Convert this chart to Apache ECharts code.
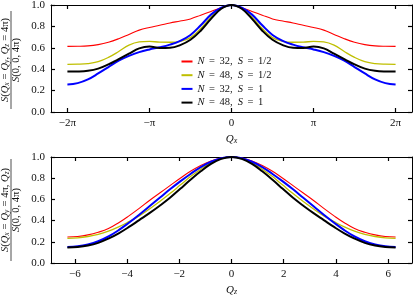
<!DOCTYPE html>
<html>
<head>
<meta charset="utf-8">
<script src="https://cdn.jsdelivr.net/npm/echarts@6/dist/echarts.min.js"></script>
<style>
html,body{margin:0;padding:0;background:#fff;}
#c{width:415px;height:297px;}
</style>
</head>
<body>
<div id="c"></div>
<script>
// ---- data ----
// top panel: Qx in units of pi
const qxTop = [-2,-1.875,-1.75,-1.625,-1.5,-1.375,-1.25,-1.125,-1,-0.875,-0.75,-0.625,-0.5,-0.375,-0.25,-0.125,0,
  0.125,0.25,0.375,0.5,0.625,0.75,0.875,1,1.125,1.25,1.375,1.5,1.625,1.75,1.875,2];
const redTop = [0.613,0.614,0.618,0.63,0.652,0.685,0.725,0.765,0.79,0.81,0.832,0.85,0.87,0.905,0.94,0.975,1.0,
  0.975,0.94,0.905,0.87,0.85,0.832,0.81,0.79,0.765,0.725,0.685,0.652,0.63,0.618,0.614,0.613];
const yellowTop = [0.446,0.447,0.452,0.47,0.51,0.565,0.625,0.655,0.66,0.653,0.652,0.66,0.695,0.78,0.885,0.97,1.0,
  0.97,0.885,0.78,0.695,0.66,0.652,0.653,0.66,0.655,0.625,0.565,0.51,0.47,0.452,0.447,0.446];
const blueTop = [0.256,0.27,0.305,0.36,0.42,0.48,0.525,0.56,0.585,0.605,0.63,0.665,0.72,0.81,0.91,0.975,1.0,
  0.975,0.91,0.81,0.72,0.665,0.63,0.605,0.585,0.56,0.525,0.48,0.42,0.36,0.305,0.27,0.256];
const blackTop = [0.378,0.379,0.385,0.405,0.445,0.495,0.545,0.595,0.612,0.598,0.60,0.625,0.675,0.76,0.87,0.965,1.0,
  0.965,0.87,0.76,0.675,0.625,0.60,0.598,0.612,0.595,0.545,0.495,0.445,0.405,0.385,0.379,0.378];

// bottom panel: Qz
const qzBot = [-6.283,-5.890,-5.498,-5.105,-4.712,-4.320,-3.927,-3.534,-3.142,-2.749,-2.356,-1.963,-1.571,-1.178,-0.785,-0.393,0,
  0.393,0.785,1.178,1.571,1.963,2.356,2.749,3.142,3.534,3.927,4.320,4.712,5.105,5.498,5.890,6.283];
const redBot = [0.245,0.25,0.265,0.29,0.325,0.38,0.445,0.515,0.59,0.66,0.73,0.80,0.865,0.92,0.963,0.99,1.0,
  0.99,0.963,0.92,0.865,0.80,0.73,0.66,0.59,0.515,0.445,0.38,0.325,0.29,0.265,0.25,0.245];
const yellowBot = [0.232,0.237,0.25,0.27,0.30,0.34,0.39,0.445,0.51,0.58,0.655,0.735,0.815,0.885,0.945,0.985,1.0,
  0.985,0.945,0.885,0.815,0.735,0.655,0.58,0.51,0.445,0.39,0.34,0.30,0.27,0.25,0.237,0.232];
const blueBot = [0.15,0.157,0.175,0.205,0.25,0.31,0.38,0.455,0.535,0.615,0.695,0.77,0.84,0.905,0.955,0.988,1.0,
  0.988,0.955,0.905,0.84,0.77,0.695,0.615,0.535,0.455,0.38,0.31,0.25,0.205,0.175,0.157,0.15];
const blackBot = [0.147,0.152,0.165,0.19,0.23,0.28,0.34,0.405,0.47,0.54,0.615,0.70,0.785,0.865,0.935,0.982,1.0,
  0.982,0.935,0.865,0.785,0.70,0.615,0.54,0.47,0.405,0.34,0.28,0.23,0.19,0.165,0.152,0.147];

const seriesNames = ['N32S12','N48S12','N32S1','N48S1'];
const legendLabels = {
  N32S12: '{i|N}{e|=}32,  {i|S}{e|=}1/2',
  N48S12: '{i|N}{e|=}48,  {i|S}{e|=}1/2',
  N32S1: '{i|N}{e|=}32,  {i|S}{e|=}1',
  N48S1: '{i|N}{e|=}48,  {i|S}{e|=}1'
};
const topTicks = [-2,-1,0,1,2];
const topTickLabels = ['\u22122\u03c0','\u2212\u03c0','0','\u03c0','2\u03c0'];
const botTicks = [-6,-4,-2,0,2,4,6];
const yTicks = ['0.0','0.2','0.4','0.6','0.8','1.0'];

// ---- chart ----
const FONT = 'Liberation Serif';
const colors = ['#ff0000','#bfbf00','#0000ff','#000000'];
const widths = [1.1,1.3,2,2];

function pairs(xs, ys){ return xs.map((x,i)=>[x, ys[i]]); }

const axisLineStyle = {show:true, onZero:false, lineStyle:{color:'#000', width:1}};
const tickStyle = {show:true, inside:true, length:4, lineStyle:{color:'#000', width:1.2}};
const subRich = {
  i:{fontFamily:FONT, fontStyle:'italic', fontSize:11, color:'#111'},
  s:{fontFamily:FONT, fontStyle:'italic', fontSize:8, color:'#111', verticalAlign:'bottom'}
};

function xAxes(grid, min, max, ticks, fmt, name){
  return [
    {gridIndex:grid, type:'value', min:min, max:max, position:'bottom',
      axisLine:axisLineStyle, splitLine:{show:false},
      axisTick:Object.assign({customValues:ticks}, tickStyle),
      axisLabel:{customValues:ticks, formatter:fmt, margin:6, fontFamily:FONT, fontSize:11, color:'#111'},
      name:name, nameLocation:'middle', nameGap:22,
      nameTextStyle:{rich:subRich, fontFamily:FONT, fontSize:11, color:'#111'}},
    {gridIndex:grid, type:'value', min:min, max:max, position:'top',
      axisLine:axisLineStyle, splitLine:{show:false},
      axisTick:Object.assign({customValues:ticks}, tickStyle),
      axisLabel:{show:false}}
  ];
}
function yAxes(grid){
  return [
    {gridIndex:grid, type:'value', min:0, max:1, interval:0.2, position:'left',
      axisLine:axisLineStyle, splitLine:{show:false}, axisTick:tickStyle,
      axisLabel:{formatter:(v)=>yTicks[Math.round(v*5)], margin:6, fontFamily:FONT, fontSize:11, color:'#111'}},
    {gridIndex:grid, type:'value', min:0, max:1, interval:0.2, position:'right',
      axisLine:axisLineStyle, splitLine:{show:false}, axisTick:tickStyle, axisLabel:{show:false}}
  ];
}

const topData = [redTop, yellowTop, blueTop, blackTop];
const botData = [redBot, yellowBot, blueBot, blackBot];
const series = [];
seriesNames.forEach((n,k)=>{
  series.push({name:n, type:'line', xAxisIndex:0, yAxisIndex:0, data:pairs(qxTop, topData[k]),
    smooth:0.4, symbol:'none', lineStyle:{color:colors[k], width:widths[k]}, itemStyle:{color:colors[k]}, z:2+k, silent:true});
});
seriesNames.forEach((n,k)=>{
  series.push({name:n, type:'line', xAxisIndex:2, yAxisIndex:2, data:pairs(qzBot, botData[k]),
    smooth:0.4, symbol:'none', lineStyle:{color:colors[k], width:widths[k]}, itemStyle:{color:colors[k]}, z:2+k, silent:true});
});

const rich9 = {
  i:{fontFamily:FONT, fontStyle:'italic', fontSize:10.5, color:'#111'},
  s:{fontFamily:FONT, fontStyle:'italic', fontSize:7.5, color:'#111', verticalAlign:'bottom'},
  e:{fontFamily:FONT, fontSize:10.5, color:'#111', padding:[0,3,0,3]}
};

function fracLabel(cx, cy, num, den, half){
  return {
    type:'group', x:cx, y:cy, rotation:Math.PI/2,
    children:[
      {type:'text', x:0, y:-5.5, style:{text:num, rich:rich9, fontFamily:FONT, fontSize:10.5, fill:'#111', align:'center', verticalAlign:'middle'}},
      {type:'line', shape:{x1:-half, y1:0, x2:half, y2:0}, style:{stroke:'#222', lineWidth:0.8}},
      {type:'text', x:0, y:5.5, style:{text:den, rich:rich9, fontFamily:FONT, fontSize:10.5, fill:'#111', align:'center', verticalAlign:'middle'}}
    ]
  };
}

const option = {
  animation:false,
  backgroundColor:'#fff',
  grid:[
    {left:51, top:5, right:3, height:107, outerBoundsMode:'none'},
    {left:51, top:157, right:3, height:106, outerBoundsMode:'none'}
  ],
  xAxis: xAxes(0, -2.2, 2.2, topTicks, (v)=>topTickLabels[topTicks.indexOf(Math.round(v))], '{i|Q}{s|x}')
    .concat(xAxes(1, -2.2*Math.PI, 2.2*Math.PI, botTicks, (v)=>(v<0?'\u2212':'')+Math.abs(Math.round(v)), '{i|Q}{s|z}')),
  yAxis: yAxes(0).concat(yAxes(1)),
  legend:{
    data:seriesNames, orient:'vertical', left:180.5, top:56, padding:0,
    itemWidth:11, itemHeight:10, itemGap:2.7,
    selectedMode:false,
    itemStyle:{opacity:0, borderWidth:0},
    formatter:(n)=>legendLabels[n],
    textStyle:{fontFamily:FONT, fontSize:10.5, lineHeight:10, color:'#111',
      rich:{
        i:{fontFamily:FONT, fontStyle:'italic', fontSize:10.5, lineHeight:10, color:'#111'},
        e:{fontFamily:FONT, fontSize:10.5, lineHeight:10, color:'#111', padding:[0,4.5,0,4.5]}
      }}
  },
  graphic:[
    fracLabel(11, 60, '{i|S}({i|Q}{s|x}{e|=}{i|Q}{s|y}, {i|Q}{s|z}{e|=}4\u03c0)', '{i|S}(0, 0, 4\u03c0)', 49),
    fracLabel(11, 210, '{i|S}({i|Q}{s|x}{e|=}{i|Q}{s|y}{e|=}4\u03c0, {i|Q}{s|z})', '{i|S}(0, 0, 4\u03c0)', 51)
  ],
  series:series
};
const chart = echarts.init(document.getElementById('c'), null, {renderer:'canvas'});
chart.setOption(option);
</script>
</body>
</html>
